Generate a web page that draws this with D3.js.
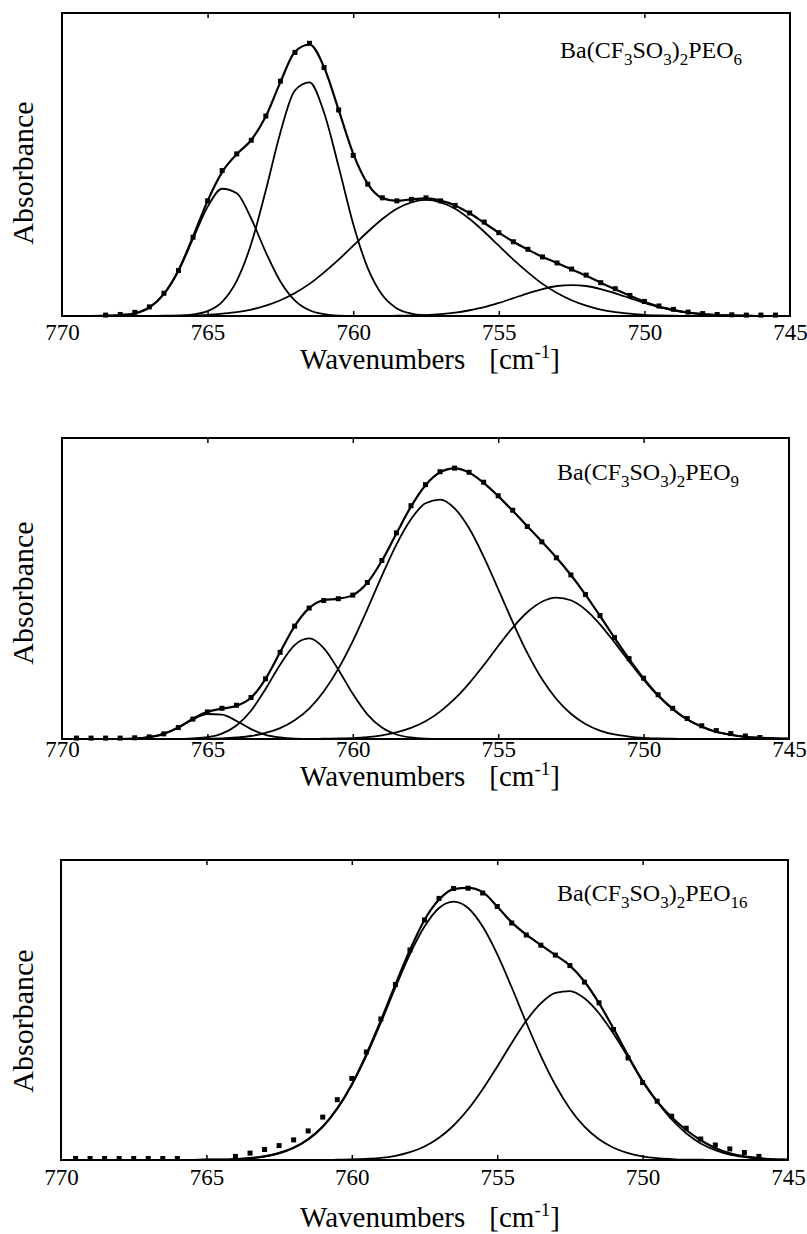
<!DOCTYPE html>
<html lang="en">
<head>
<meta charset="utf-8">
<title>Band fits, Ba(CF3SO3)2PEOn</title>
<style>
  body { margin: 0; background: #fff; }
  text { font-family: "Liberation Serif", "DejaVu Serif", serif; fill: #000; }
  .frame { fill: none; stroke: #000; stroke-width: 2; }
  .band { fill: none; stroke: #000; stroke-width: 1.8; }
  .fit { fill: none; stroke: #000; stroke-width: 2.2; }
  .axis path.domain { display: none; }
  .axis line { stroke: #000; stroke-width: 1.5; }
  .axis text { font-family: "Liberation Serif", serif !important; font-size: 23px; fill: #000; }
</style>
</head>
<body>
<script src="https://cdn.jsdelivr.net/npm/d3@7"></script>
<script>
// wavenumber grid (cm-1) the curves and points are read at, 769.5 -> 745.0
var wavenumbers = [769.5, 769.0, 768.5, 768.0, 767.5, 767.0, 766.5, 766.0, 765.5, 765.0,
  764.5, 764.0, 763.5, 763.0, 762.5, 762.0, 761.5, 761.0, 760.5, 760.0,
  759.5, 759.0, 758.5, 758.0, 757.5, 757.0, 756.5, 756.0, 755.5, 755.0,
  754.5, 754.0, 753.5, 753.0, 752.5, 752.0, 751.5, 751.0, 750.5, 750.0,
  749.5, 749.0, 748.5, 748.0, 747.5, 747.0, 746.5, 746.0, 745.5, 745.0];

var xTicks = [770, 765, 760, 755, 750, 745];
var innerTicks = [765, 760, 755, 750];

// ---- Ba(CF3SO3)2PEO6 ----
var peo6Band765 = [0, 0, 0.001, 0.003, 0.009, 0.028, 0.072, 0.149, 0.255, 0.360,
  0.420, 0.405, 0.321, 0.210, 0.114, 0.051, 0.019, 0.006, 0.001, 0,
  0, 0, 0, 0, 0, 0, 0, 0, 0, 0, 0, 0, 0, 0, 0, 0, 0, 0, 0, 0,
  0, 0, 0, 0, 0, 0, 0, 0, 0, 0];
var peo6Band761 = [0, 0, 0, 0, 0, 0, 0, 0.001, 0.005, 0.016,
  0.047, 0.116, 0.239, 0.415, 0.606, 0.745, 0.771, 0.671, 0.493, 0.304,
  0.158, 0.069, 0.025, 0.008, 0.002, 0, 0, 0, 0, 0,
  0, 0, 0, 0, 0, 0, 0, 0, 0, 0, 0, 0, 0, 0, 0, 0, 0, 0, 0, 0];
var peo6Band757 = [0, 0, 0, 0, 0, 0, 0.001, 0.001, 0.002, 0.004,
  0.008, 0.013, 0.021, 0.034, 0.052, 0.076, 0.106, 0.144, 0.186, 0.232,
  0.278, 0.320, 0.354, 0.375, 0.383, 0.375, 0.354, 0.320, 0.278, 0.232,
  0.186, 0.144, 0.106, 0.076, 0.052, 0.034, 0.021, 0.013, 0.008, 0.004,
  0.002, 0.001, 0, 0, 0, 0, 0, 0, 0, 0];
var peo6Band752 = [0, 0, 0, 0, 0, 0, 0, 0, 0, 0, 0, 0, 0, 0, 0, 0, 0, 0, 0, 0,
  0, 0, 0.001, 0.002, 0.003, 0.006, 0.011, 0.019, 0.029, 0.043,
  0.059, 0.075, 0.089, 0.099, 0.102, 0.099, 0.089, 0.075, 0.059, 0.043,
  0.029, 0.019, 0.011, 0.006, 0.003, 0.002, 0.001, 0, 0, 0];
var peo6Fit = [0, 0, 0.001, 0.003, 0.009, 0.028, 0.073, 0.151, 0.262, 0.380,
  0.475, 0.534, 0.581, 0.659, 0.772, 0.872, 0.896, 0.821, 0.680, 0.536,
  0.436, 0.389, 0.380, 0.385, 0.388, 0.381, 0.365, 0.339, 0.307, 0.275,
  0.245, 0.219, 0.195, 0.175, 0.154, 0.133, 0.110, 0.088, 0.067, 0.047,
  0.031, 0.020, 0.011, 0.006, 0.003, 0.002, 0.001, 0, 0, 0];
var peo6Measured = [null, null, 0.003, 0.005, 0.012, 0.03, 0.075, 0.15, 0.26, 0.38,
  0.48, 0.535, 0.58, 0.66, 0.775, 0.87, 0.9, 0.82, 0.68, 0.53,
  0.435, 0.39, 0.38, 0.385, 0.39, 0.38, 0.365, 0.34, 0.31, 0.275,
  0.245, 0.22, 0.195, 0.175, 0.155, 0.135, 0.11, 0.09, 0.068, 0.048,
  0.033, 0.022, 0.013, 0.008, 0.005, 0.004, 0.003, 0.003, 0.003, null];

// ---- Ba(CF3SO3)2PEO9 ----
var peo9Band765 = [0, 0, 0, 0, 0.001, 0.006, 0.017, 0.038, 0.065, 0.083,
  0.081, 0.060, 0.033, 0.014, 0.005, 0.001, 0, 0, 0, 0,
  0, 0, 0, 0, 0, 0, 0, 0, 0, 0, 0, 0, 0, 0, 0, 0, 0, 0, 0, 0,
  0, 0, 0, 0, 0, 0, 0, 0, 0, 0];
var peo9Band761 = [0, 0, 0, 0, 0, 0, 0, 0, 0.002, 0.006,
  0.018, 0.045, 0.094, 0.166, 0.247, 0.312, 0.334, 0.302, 0.231, 0.150,
  0.082, 0.038, 0.015, 0.005, 0.001, 0, 0, 0, 0, 0,
  0, 0, 0, 0, 0, 0, 0, 0, 0, 0, 0, 0, 0, 0, 0, 0, 0, 0, 0, 0];
var peo9Band757 = [0, 0, 0, 0, 0, 0, 0, 0, 0, 0.001,
  0.002, 0.005, 0.010, 0.020, 0.036, 0.062, 0.101, 0.158, 0.233, 0.325,
  0.431, 0.542, 0.646, 0.730, 0.783, 0.795, 0.766, 0.700, 0.606, 0.498,
  0.388, 0.286, 0.200, 0.133, 0.084, 0.050, 0.028, 0.015, 0.008, 0.004,
  0.002, 0.001, 0, 0, 0, 0, 0, 0, 0, 0];
var peo9Band753 = [0, 0, 0, 0, 0, 0, 0, 0, 0, 0, 0, 0, 0, 0, 0, 0, 0, 0.001, 0.002, 0.003,
  0.006, 0.012, 0.022, 0.037, 0.059, 0.091, 0.133, 0.185, 0.245, 0.309,
  0.370, 0.421, 0.456, 0.470, 0.461, 0.430, 0.381, 0.321, 0.258, 0.197,
  0.143, 0.099, 0.065, 0.041, 0.024, 0.014, 0.007, 0.004, 0.002, 0.001];
var peo9Fit = [0, 0, 0, 0, 0.001, 0.006, 0.017, 0.038, 0.067, 0.090,
  0.101, 0.110, 0.137, 0.200, 0.288, 0.375, 0.435, 0.461, 0.466, 0.478,
  0.519, 0.592, 0.683, 0.772, 0.843, 0.886, 0.899, 0.885, 0.851, 0.807,
  0.758, 0.707, 0.656, 0.603, 0.545, 0.480, 0.409, 0.336, 0.266, 0.201,
  0.145, 0.100, 0.065, 0.041, 0.024, 0.014, 0.007, 0.004, 0.002, 0.001];
var peo9Measured = [0.003, 0.003, 0.003, 0.003, 0.004, 0.007, 0.017, 0.038, 0.066, 0.09,
  0.102, 0.112, 0.138, 0.2, 0.288, 0.375, 0.435, 0.46, 0.466, 0.478,
  0.52, 0.593, 0.685, 0.775, 0.845, 0.888, 0.9, 0.886, 0.853, 0.808,
  0.76, 0.706, 0.655, 0.602, 0.545, 0.48, 0.41, 0.337, 0.267, 0.202,
  0.147, 0.102, 0.068, 0.044, 0.028, 0.018, 0.01, 0.005, null, null];

// ---- Ba(CF3SO3)2PEO16 ----
var peo16Band756 = [0, 0, 0, 0, 0, 0, 0, 0, 0, 0.001,
  0.001, 0.003, 0.006, 0.012, 0.023, 0.041, 0.069, 0.111, 0.171, 0.250,
  0.347, 0.458, 0.575, 0.686, 0.778, 0.840, 0.861, 0.840, 0.778, 0.686,
  0.575, 0.458, 0.347, 0.250, 0.171, 0.111, 0.069, 0.041, 0.023, 0.012,
  0.006, 0.003, 0.001, 0.001, 0, 0, 0, 0, 0, 0];
var peo16Band753 = [0, 0, 0, 0, 0, 0, 0, 0, 0, 0, 0, 0, 0, 0, 0, 0, 0, 0, 0.001, 0.002,
  0.004, 0.007, 0.014, 0.026, 0.045, 0.074, 0.115, 0.169, 0.236, 0.311,
  0.390, 0.464, 0.522, 0.557, 0.563, 0.539, 0.489, 0.421, 0.343, 0.265,
  0.194, 0.135, 0.089, 0.055, 0.033, 0.018, 0.010, 0.005, 0.002, 0.001];
var peo16Fit = [0, 0, 0, 0, 0, 0, 0, 0, 0, 0.001,
  0.001, 0.003, 0.006, 0.012, 0.023, 0.041, 0.069, 0.111, 0.172, 0.252,
  0.352, 0.465, 0.585, 0.700, 0.800, 0.868, 0.903, 0.907, 0.893, 0.845,
  0.792, 0.751, 0.717, 0.683, 0.648, 0.595, 0.523, 0.438, 0.348, 0.262,
  0.195, 0.142, 0.100, 0.066, 0.040, 0.022, 0.012, 0.006, 0.002, 0.001];
var peo16Measured = [0.005, 0.005, 0.005, 0.005, 0.005, 0.005, 0.005, 0.005, null, null,
  null, 0.012, 0.023, 0.035, 0.048, 0.067, 0.097, 0.143, 0.201, 0.272,
  0.36, 0.47, 0.585, 0.70, 0.80, 0.872, 0.905, 0.906, 0.89, 0.845,
  0.79, 0.75, 0.716, 0.683, 0.648, 0.593, 0.524, 0.435, 0.34, 0.258,
  0.196, 0.146, 0.106, 0.07, 0.05, 0.037, 0.025, 0.012, null, null];

var sampleNames = ["6", "9", "16"];

// the three panels, with where each one sits on the page
var panels = [
  { n: sampleNames[0], bands: [peo6Band765, peo6Band761, peo6Band757, peo6Band752],
    fit: peo6Fit, points: peo6Measured,
    left: 62, right: 790, top: 13, bottom: 316, tickBase: 340, titleBase: 369, yMid: 173, noteX: 560, noteY: 58 },
  { n: sampleNames[1], bands: [peo9Band765, peo9Band761, peo9Band757, peo9Band753],
    fit: peo9Fit, points: peo9Measured,
    left: 62, right: 789, top: 438, bottom: 739, tickBase: 757, titleBase: 786, yMid: 593, noteX: 557, noteY: 480 },
  { n: sampleNames[2], bands: [peo16Band756, peo16Band753],
    fit: peo16Fit, points: peo16Measured,
    left: 61, right: 788, top: 860, bottom: 1160, tickBase: 1185, titleBase: 1227, yMid: 1021, noteX: 557, noteY: 901 }
];

var w = 807, h = 1234;
var serif = "Liberation Serif, serif";

var svg = d3.select("body").append("svg")
  .attr("width", w)
  .attr("height", h);

panels.forEach(function(p) {
  var x = d3.scaleLinear().domain([770, 745]).range([p.left, p.right]);
  var y = d3.scaleLinear().domain([0, 1]).range([p.bottom, p.top]);

  var line = d3.line()
    .x(function(d, i) { return x(wavenumbers[i]); })
    .y(function(d) { return y(d); })
    .curve(d3.curveMonotoneX);

  var g = svg.append("g");

  // fitted component bands
  g.selectAll("path.band")
    .data(p.bands)
    .enter()
    .append("path")
    .attr("class", "band")
    .attr("d", line);

  // sum of the fit
  g.append("path")
    .attr("class", "fit")
    .attr("d", line(p.fit));

  // measured spectrum, small squares
  var pts = p.points
    .map(function(v, i) { return { wn: wavenumbers[i], v: v }; })
    .filter(function(d) { return d.v !== null; });

  g.selectAll("rect.pt")
    .data(pts)
    .enter()
    .append("rect")
    .attr("class", "pt")
    .attr("x", function(d) { return x(d.wn) - 2.5; })
    .attr("y", function(d) { return y(d.v) - 2.5; })
    .attr("width", 5)
    .attr("height", 5)
    .attr("fill", "#000");

  // frame
  g.append("rect")
    .attr("class", "frame")
    .attr("x", p.left)
    .attr("y", p.top)
    .attr("width", p.right - p.left)
    .attr("height", p.bottom - p.top);

  // bottom axis: inward ticks and labels
  var bx = g.append("g")
    .attr("class", "axis")
    .attr("transform", "translate(0," + p.bottom + ")")
    .call(d3.axisBottom(x)
      .tickValues(xTicks)
      .tickSize(-5)
      .tickPadding(p.tickBase - p.bottom - 16)
      .tickFormat(d3.format("d")))
    .attr("font-family", serif)
    .attr("font-size", 23);
  bx.selectAll(".tick line")
    .attr("opacity", function(d) { return innerTicks.indexOf(d) >= 0 ? 1 : 0; });

  // top axis: ticks only
  g.append("g")
    .attr("class", "axis")
    .attr("transform", "translate(0," + p.top + ")")
    .call(d3.axisTop(x)
      .tickValues(innerTicks)
      .tickSize(-5)
      .tickFormat(""));

  // axis titles
  var t = g.append("text")
    .attr("x", 430)
    .attr("y", p.titleBase)
    .attr("text-anchor", "middle")
    .style("font-size", "29px");
  t.append("tspan").text("Wavenumbers");
  t.append("tspan").attr("dx", 24).text("[cm");
  t.append("tspan").attr("dy", -11).style("font-size", "19px").text("-1");
  t.append("tspan").attr("dy", 11).text("]");

  g.append("text")
    .attr("transform", "translate(33," + p.yMid + ") rotate(-90)")
    .attr("text-anchor", "middle")
    .style("font-size", "30px")
    .text("Absorbance");

  // sample label with subscripts
  var note = g.append("text")
    .attr("x", p.noteX)
    .attr("y", p.noteY)
    .style("font-size", "24px");
  var parts = [["Ba(CF", 0], ["3", 1], ["SO", 0], ["3", 1], [")", 0], ["2", 1], ["PEO", 0], [p.n, 1]];
  var shift = 0;
  parts.forEach(function(s) {
    var dy = s[1] ? 7 - shift : -shift;
    shift = s[1] ? 7 : 0;
    note.append("tspan")
      .attr("dy", dy)
      .style("font-size", s[1] ? "17px" : "24px")
      .text(s[0]);
  });
});
</script>
</body>
</html>
